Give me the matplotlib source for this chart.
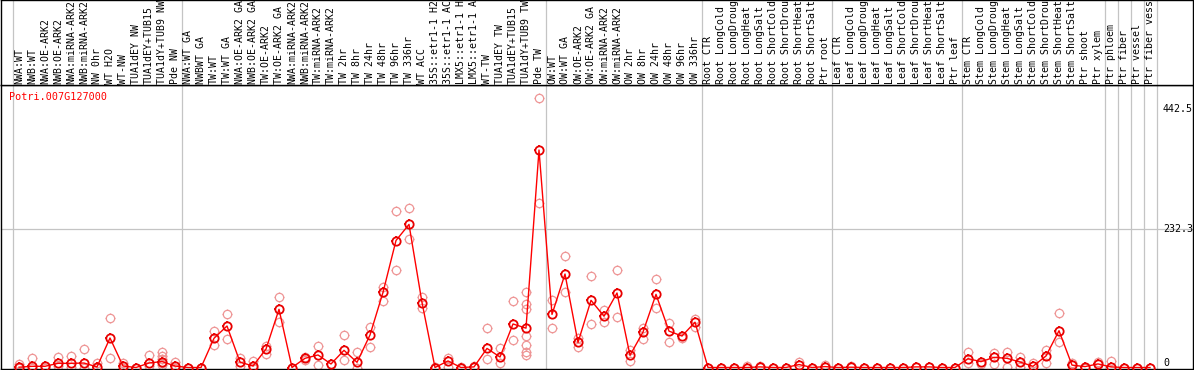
import matplotlib
matplotlib.use("Agg")
import matplotlib.pyplot as plt
from matplotlib.path import Path

# ---------------- data ----------------
labels = [
    "NWA:WT", "NWB:WT", "NWA:OE-ARK2", "NWB:OE-ARK2", "NWA:miRNA-ARK2", "NWB:miRNA-ARK2",
    "NW 0hr", "WT H2O", "WT-NW", "TUA1dEY NW", "TUA1dEY+TUB15", "TUA1dY+TUB9 NW", "Pde NW",
    "NWA:WT GA", "NWBWT GA", "TW:WT", "TW:WT GA", "NWA:OE-ARK2 GA", "NWB:OE-ARK2 GA",
    "TW:OE-ARK2", "TW:OE-ARK2 GA", "NWA:miRNA-ARK2", "NWB:miRNA-ARK2", "TW:miRNA-ARK2",
    "TW:miRNA-ARK2", "TW 2hr", "TW 8hr", "TW 24hr", "TW 48hr", "TW 96hr", "TW 336hr",
    "WT ACC", "35S::etr1-1 H2", "35S::etr1-1 AC", "LMX5::etr1-1 H", "LMX5::etr1-1 A",
    "WT-TW", "TUA1dEY TW", "TUA1dEY+TUB15", "TUA1dY+TUB9 TW", "Pde TW",
    "OW:WT", "OW:WT GA", "OW:OE-ARK2", "OW:OE-ARK2 GA", "OW:miRNA-ARK2", "OW:miRNA-ARK2",
    "OW 2hr", "OW 8hr", "OW 24hr", "OW 48hr", "OW 96hr", "OW 336hr",
    "Root CTR", "Root LongCold", "Root LongDroug", "Root LongHeat", "Root LongSalt",
    "Root ShortCold", "Root ShortDrou", "Root ShortHeat", "Root ShortSalt", "Ptr root",
    "Leaf CTR", "Leaf LongCold", "Leaf LongDroug", "Leaf LongHeat", "Leaf LongSalt",
    "Leaf ShortCold", "Leaf ShortDrou", "Leaf ShortHeat", "Leaf ShortSalt", "Ptr leaf",
    "Stem CTR", "Stem LongCold", "Stem LongDroug", "Stem LongHeat", "Stem LongSalt",
    "Stem ShortCold", "Stem ShortDrou", "Stem ShortHeat", "Stem ShortSalt", "Ptr shoot",
    "Ptr xylem", "Ptr phloem", "Ptr fiber", "Ptr vessel", "Ptr fiber vess",
]

means = [
    0.5, 2, 2, 7, 7, 7.5, 1, 49.5, 2.5, 0, 7.5, 10, 2.5,
    0, 0, 49, 69.6, 9, 2.5, 31, 97.6, 0, 15.4, 21, 5.9, 28.8, 8.7, 54.5, 126, 213, 240, 109,
    0, 11, 0, 1, 32, 17.6, 73, 66, 364.8,
    89, 156.8, 42, 112.7, 86, 125, 20.4, 59.5, 122.7, 61, 52.8, 76,
    0, 0, 0, 0, 1, 0, 0, 5, 0, 1.5,
    0, 0.5, 0, 0, 0, 0, 1, 1, 0, 0,
    14.8, 9.8, 17, 15.4, 9.2, 2, 19.3, 61.7, 4, 1.5,
    6, 1, 0, 0, 0,
]

replicates = [
    [5.4, 0], [16, 0], [3, 0], [17, 2], [19, 1], [30.5, 0], [7.5, 0], [82.5, 15.4],
    [7.5, 0], [0], [21.5, 2], [25.5, 19.5, 15, 8, 4], [10, 0],
    [0], [0], [61, 37], [90, 47], [16.5, 2], [10.4, 0], [36.6, 22.6], [117.7, 75.8], [0],
    [17, 13], [36, 3.7], [5.9], [54.5, 12], [26.5, 0], [68.4, 35], [134.5, 111.5],
    [262, 163], [267.5, 215], [117.7, 99],
    [1.5], [15.4, 1], [0.5], [2.5], [66, 13.7], [32, 7.5], [111.5, 46],
    [126.6, 106.5, 97.6, 53, 37.7, 26.5, 20.4], [451.5, 275.4],
    [114, 65.7], [187, 126], [50, 35], [153.5, 73], [96.4, 77], [163.5, 84], [29, 11.4],
    [65.7, 47], [148, 99], [74, 42], [49], [82, 68],
    [0], [0], [0], [2], [3], [0], [0], [9], [0], [5],
    [0], [2], [0], [0], [0], [0], [1], [1], [0], [0],
    [26, 8], [6], [25, 6], [26, 1], [18, 0.5], [7], [29, 7], [91, 43], [8], [0],
    [10], [11.4], [0], [0], [0],
]

title = "Potri.007G127000"
ytick_values = [0, 232.3, 442.5]
ytick_labels = ["0", "232.3", "442.5"]
separators = [-0.5, 12.5, 40.5, 52.5, 62.5, 72.5, 83.5, 84.5, 85.5, 86.5, 87.5]

# ---------------- layout ----------------
W, H = 1194, 370
fig = plt.figure(figsize=(W / 100, H / 100), dpi=100)
fig.patch.set_facecolor("white")

x_left_px, x_right_px = 1, 1193
header_bottom_px = 85
plot_bottom_px = 369

x0, dx = 19.0, 13.0
xlim = ((x_left_px - x0) / dx, (x_right_px - x0) / dx)
y0_px, k = 367.5, 0.5962
ylim = ((y0_px - plot_bottom_px) / k, (y0_px - header_bottom_px) / k)

ax = fig.add_axes([x_left_px / W, (H - plot_bottom_px) / H,
                   (x_right_px - x_left_px) / W, (plot_bottom_px - header_bottom_px) / H])
hx = fig.add_axes([x_left_px / W, (H - header_bottom_px) / H,
                   (x_right_px - x_left_px) / W, (header_bottom_px - 0) / H])

mono = "DejaVu Sans Mono"
gray = "#c4c4c4"

for a in (ax, hx):
    a.set_xlim(*xlim)
    a.set_xticks([])
    a.set_yticks([])
    for s in a.spines.values():
        s.set_color("black")
        s.set_linewidth(1.0)
    for xs in separators:
        a.axvline(xs, color=gray, lw=0.9, zorder=1)

ax.set_ylim(*ylim)
hx.set_ylim(header_bottom_px, 0)

# horizontal grid line at middle tick
ax.axhline(ytick_values[1], color=gray, lw=0.9, zorder=1)

# tick marks around the circles
tv = [(0, 0.8), (0, 1), (0, -0.8), (0, -1), (0.8, 0), (1, 0), (-0.8, 0), (-1, 0)]
tc = [Path.MOVETO, Path.LINETO] * 4
ticks_marker = Path(tv, tc)

circ_ms = 6.0
tick_ms = 7.6

xs_idx = list(range(len(labels)))
rx, ry = [], []
for i, reps in enumerate(replicates):
    for v in reps:
        rx.append(i)
        ry.append(v)
rep_col = "#ee9595"
mean_col = "#e80000"
for mk, ms in (("o", circ_ms), (ticks_marker, tick_ms)):
    ax.plot(rx, ry, linestyle="none", marker=mk, markersize=ms,
            markerfacecolor="none", markeredgecolor=rep_col, markeredgewidth=0.9,
            zorder=2, clip_on=False)
ax.plot(xs_idx, means, color="red", lw=1.0, zorder=3)
for mk, ms in (("o", circ_ms), (ticks_marker, tick_ms)):
    ax.plot(xs_idx, means, linestyle="none", marker=mk, markersize=ms,
            markerfacecolor="none", markeredgecolor=mean_col, markeredgewidth=1.3,
            zorder=4, clip_on=False)

# y tick labels at right
tx = (1163 - x0) / dx
vas = ["bottom", "center", "top"]
for v, t, va in zip(ytick_values, ytick_labels, vas):
    ax.text(tx, v, t, ha="left", va=va, fontsize=7.2, family=mono, color="black")

# title
ax.text((9 - x_left_px) / (x_right_px - x_left_px),
        1 - (97 - header_bottom_px) / (plot_bottom_px - header_bottom_px),
        title, transform=ax.transAxes, ha="left", va="center", fontsize=7.3, family=mono,
        color="red")

# header labels
for i, lab in enumerate(labels):
    hx.text(i, 83.5, lab, rotation=90, ha="center", va="bottom", fontsize=7.1,
            family=mono, color="black", clip_on=True)

fig.savefig("out.png", dpi=100)
